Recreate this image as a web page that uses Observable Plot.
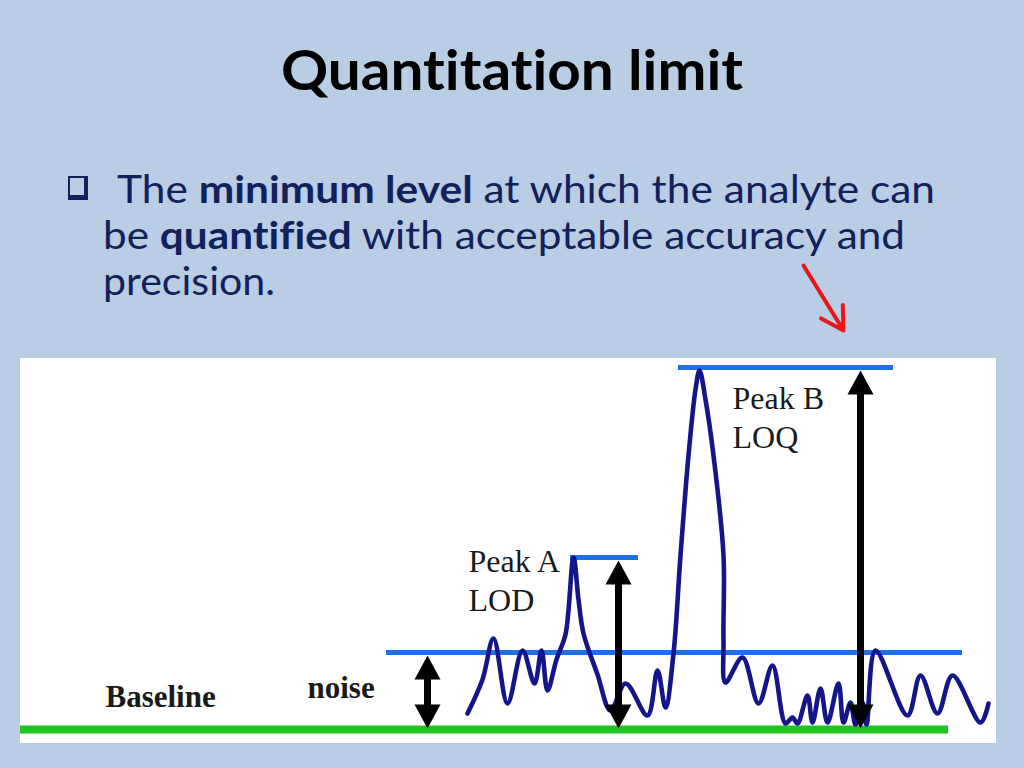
<!DOCTYPE html>
<html><head><meta charset="utf-8">
<script src="https://cdn.jsdelivr.net/npm/d3@7"></script>
<script src="https://cdn.jsdelivr.net/npm/@observablehq/plot@0.6"></script>
<style>
html,body{margin:0;padding:0;}
body{width:1024px;height:768px;background:#b9cde5;position:relative;overflow:hidden;font-family:Lato,"Open Sans",sans-serif;font-variant-ligatures:none;font-feature-settings:"liga" 0,"clig" 0;}
.t{position:absolute;left:0;top:0;white-space:nowrap;transform-origin:0 0;line-height:1;}
#title{font-weight:700;color:#000;font-size:56px;}
.b{color:#13215a;font-size:38px;}
.b b{font-weight:700;}
#box{position:absolute;left:68px;top:176px;width:14px;height:17px;border:2px solid #13215a;border-right-width:4px;border-bottom-width:5px;}
#chart{position:absolute;left:20px;top:358px;}
</style></head>
<body>
<div id="title" class="t" data-x="281" data-base="90" data-w="462">Quantitation limit</div>
<div id="box"></div>
<div class="t b" data-x="117" data-base="203" data-w="818">The <b>minimum level</b> at which the analyte can</div>
<div class="t b" data-x="103" data-base="249" data-w="802">be <b>quantified</b> with acceptable accuracy and</div>
<div class="t b" data-x="103" data-base="295" data-w="172">precision.</div>
<div id="chart"></div>
<script>
// ---- data (time units across the panel, signal units above baseline) ----
const traceTime = [447,462,473,487,502,514,521,527,536,545,553,558,563,577,590,605,627,637,645,653,660,668,675,679,685,693,703,703,705,722,738,752,765,772,777,787,792,800,807,818,823,830,835,842,846,855,887,900,917,932,960,968];
const traceSignal = [16,50,91,26,79,46,79,39,70,95,172,130,96,55,19,46,14,59,22,76,174,274,340,359,330,274,174,90,47,72,26,64,6,12,6,34,7,41,7,46,7,27,5,27,5,79,14,54,16,54,7,26];

const levelNames = ["Baseline", "noise", "Peak A", "Peak B"];
const levelSignal = [0, 77, 172, 362];
const levelStart = [0, 366, 550, 658];
const levelEnd = [928, 942, 618, 873];

const arrowNames = ["noise", "Peak A", "Peak B"];
const arrowTime = [407, 598, 840];

const labelText = ["Baseline", "noise", "Peak A\nLOD", "Peak B\nLOQ"];
const labelTime = [85, 287, 448, 712];
const labelSignal = [32, 41, 185, 348];

const pointerTime = [783, 823];
const pointerSignal = [464, 399];

// ---- text fitting ----
document.querySelectorAll(".t").forEach(el => {
  const probe = document.createElement("span");
  probe.style.cssText = "display:inline-block;width:0;height:0;vertical-align:baseline";
  el.appendChild(probe);
  const r = el.getBoundingClientRect();
  const base = probe.getBoundingClientRect().top - r.top;
  const s = (+el.dataset.w) / r.width;
  el.style.left = el.dataset.x + "px";
  el.style.top = (+el.dataset.base - base) + "px";
  el.style.transform = `scaleX(${s})`;
});

// ---- marks data ----
const trace = traceTime.map((t, i) => ({t, s: traceSignal[i]}));
const levels = levelNames.map((name, i) => ({name, s: levelSignal[i], t1: levelStart[i], t2: levelEnd[i]}));
const arrows = arrowNames.map((name, i) => ({name, t: arrowTime[i], top: levelSignal[levelNames.indexOf(name)]}));
const labels = labelText.map((text, i) => ({text, t: labelTime[i], s: labelSignal[i], bold: i < 2}));
const pointer = [{x1: pointerTime[0], y1: pointerSignal[0], x2: pointerTime[1], y2: pointerSignal[1]}];

const headUp = {draw(ctx, size) { const r = Math.sqrt(size / Math.PI); ctx.moveTo(0, 0); ctx.lineTo(r, 1.85 * r); ctx.lineTo(-r, 1.85 * r); ctx.closePath(); }};
const headDown = {draw(ctx, size) { const r = Math.sqrt(size / Math.PI); ctx.moveTo(0, 0); ctx.lineTo(r, -1.85 * r); ctx.lineTo(-r, -1.85 * r); ctx.closePath(); }};

const chart = Plot.plot({
  width: 976, height: 385,
  marginTop: 0, marginRight: 0, marginBottom: 0, marginLeft: 0,
  style: {background: "white", overflow: "visible"},
  x: {domain: [0, 976], axis: null},
  y: {domain: [-14, 371], axis: null},
  marks: [
    Plot.ruleY(levels.filter(d => d.name === "Baseline"), {y: "s", x1: "t1", x2: "t2", stroke: "#20c420", strokeWidth: 8}),
    Plot.ruleY(levels.filter(d => d.name !== "Baseline"), {y: "s", x1: "t1", x2: "t2", stroke: "#1f6fe6", strokeWidth: 5}),
    Plot.line(trace, {x: "t", y: "s", stroke: "#15158a", strokeWidth: 4.6, curve: "catmull-rom"}),
    Plot.ruleX(arrows, {x: "t", y1: 10, y2: d => d.top - 15, stroke: "black", strokeWidth: 7}),
    Plot.dot(arrows, {x: "t", y: d => d.top - 3, symbol: headUp, r: 13, fill: "black", stroke: "none"}),
    Plot.dot(arrows, {x: "t", y: 1, symbol: headDown, r: 13, fill: "black", stroke: "none"}),
    Plot.text(labels.filter(d => d.bold), {x: "t", y: "s", text: "text", textAnchor: "start", fontFamily: "Liberation Serif", fontWeight: "bold", fontSize: 31, fill: "#1a1a1a"}),
    Plot.text(labels.filter(d => !d.bold), {x: "t", y: "s", text: "text", textAnchor: "start", lineAnchor: "top", lineHeight: 1.22, fontFamily: "Liberation Serif", fontSize: 32, fill: "#1a1a1a"}),
    Plot.arrow(pointer, {x1: "x1", y1: "y1", x2: "x2", y2: "y2", stroke: "#e8161b", strokeWidth: 4, headLength: 14})
  ]
});
document.getElementById("chart").appendChild(chart);
</script>
</body></html>
